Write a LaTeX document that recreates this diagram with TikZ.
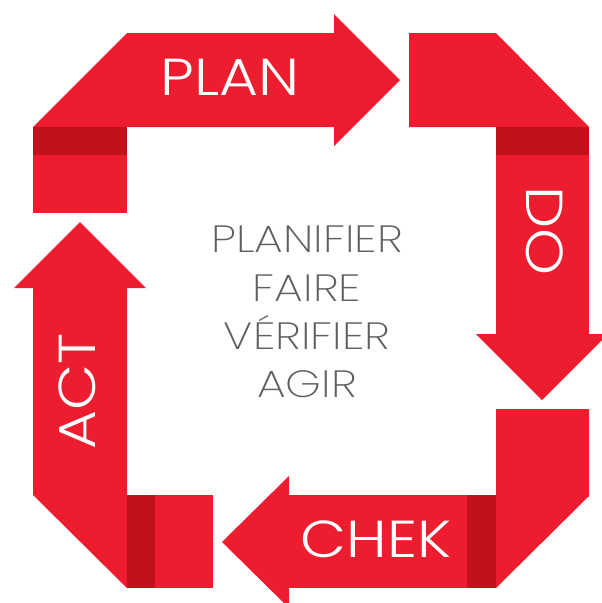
\documentclass[tikz,border=0pt]{standalone}
\usepackage{fontspec}
\newfontfamily\labfont{Poppins}[UprightFont=* Light,FakeStretch=1.15]
\newfontfamily\thinfont{Poppins}[UprightFont=* ExtraLight,FakeStretch=1.2]
\definecolor{pdcared}{RGB}{237,28,46}
\definecolor{pdcadark}{RGB}{193,17,27}
\definecolor{pdcagray}{RGB}{95,95,95}
\begin{document}
\begin{tikzpicture}[x=1pt,y=-1pt,
  redfill/.style={fill=pdcared,draw=none},
  darkfill/.style={fill=pdcadark,draw=none},
  biglabel/.style={text=white,font=\labfont\fontsize{52}{52}\selectfont,inner sep=0pt},
  midlabel/.style={text=pdcagray,font=\thinfont\fontsize{38}{38}\selectfont,inner sep=0pt,anchor=base}]
\useasboundingbox (0,0) rectangle (602,603);
% top-left corner and PLAN arrow
\fill[redfill] (33,127) -- (127,33) -- (335,33) -- (335,127) -- cycle;
\fill[redfill] (334,14) -- (400,80) -- (334,146) -- cycle;
\fill[darkfill] (33,127) rectangle (127,155);
\fill[redfill] (33,155) rectangle (127,213);
% top-right corner and DO arrow
\fill[redfill] (409,33) -- (496,33) -- (589,127) -- (409,127) -- cycle;
\fill[darkfill] (496,127) rectangle (589,155);
\fill[redfill] (496,155) rectangle (589,335);
\fill[redfill] (476,334) -- (608,334) -- (542,400) -- cycle;
% bottom-right corner and CHEK arrow
\fill[redfill] (496,409) -- (589,409) -- (589,496) -- (496,588) -- cycle;
\fill[darkfill] (467,495) rectangle (496,588);
\fill[redfill] (288,495) rectangle (467,588);
\fill[redfill] (289,476) -- (289,608) -- (222,542) -- cycle;
% bottom-left corner and ACT arrow
\fill[redfill] (33,287) -- (127,287) -- (127,588) -- (33,495) -- cycle;
\fill[redfill] (14,288) -- (146,288) -- (80,222) -- cycle;
\fill[darkfill] (127,495) rectangle (155,588);
\fill[redfill] (155,495) rectangle (213,588);
% labels
\node[biglabel] (plan) at (230,77) {PLAN};
\node[biglabel,rotate=-90] (do) at (545,231) {DO};
\node[biglabel] (chek) at (376,539) {CHEK};
\node[biglabel,rotate=90] (act) at (77,391) {ACT};
\node[midlabel] (l1) at (307,252) {PLANIFIER};
\node[midlabel] (l2) at (307,301) {FAIRE};
\node[midlabel] (l3) at (307,349) {VÉRIFIER};
\node[midlabel] (l4) at (307,397) {AGIR};
\end{tikzpicture}
\end{document}
